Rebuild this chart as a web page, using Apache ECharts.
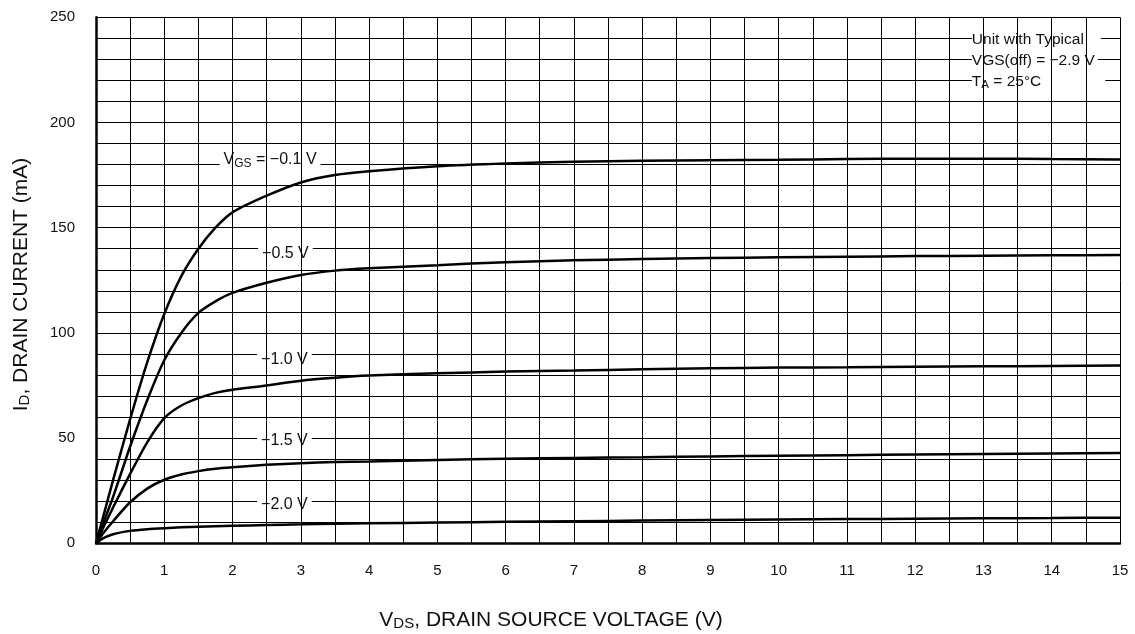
<!DOCTYPE html>
<html>
<head>
<meta charset="utf-8">
<script src="https://cdn.jsdelivr.net/npm/echarts@6/dist/echarts.min.js"></script>
<style>
html,body{margin:0;padding:0;background:#fff;}
#chart{width:1135px;height:634px;}
</style>
</head>
<body>
<div id="chart"></div>
<script>
// Drain voltage samples (V)
const vds = [0, 0.1, 0.25, 0.5, 0.75, 1.0, 1.25, 1.5, 1.75, 2.0, 2.5, 3.0, 3.5, 4, 5, 6, 7, 8, 9, 10, 11, 12, 13, 14, 15];
// Drain current (mA) per gate voltage curve
const idVgs01 = [0, 12, 30, 59, 86, 109, 127, 140, 150, 157.3, 165.2, 171.5, 175, 176.8, 179.2, 180.5, 181.3, 181.8, 182.1, 182.3, 182.6, 182.8, 182.8, 182.6, 182.4];
const idVgs05 = [0, 9, 22, 46, 68, 87, 100, 109.5, 115, 119, 123.8, 127.5, 129.6, 130.7, 132.2, 133.6, 134.5, 135.1, 135.6, 135.9, 136.2, 136.5, 136.7, 136.9, 137];
const idVgs10 = [0, 7, 17, 33, 48, 59.5, 65.5, 69, 71.5, 73, 75, 77.3, 78.7, 79.7, 80.8, 81.6, 82.1, 82.7, 83.2, 83.5, 83.7, 83.9, 84.1, 84.3, 84.5];
const idVgs15 = [0, 4.5, 10.5, 19.5, 26, 30.2, 32.7, 34.3, 35.4, 36.1, 37.3, 38.1, 38.6, 38.9, 39.6, 40.2, 40.6, 40.9, 41.3, 41.6, 41.9, 42.2, 42.5, 42.7, 42.9];
const idVgs20 = [0, 2.3, 4.3, 5.9, 6.7, 7.2, 7.6, 7.9, 8.1, 8.3, 8.7, 9.0, 9.3, 9.5, 9.9, 10.2, 10.5, 10.8, 11.1, 11.3, 11.5, 11.7, 11.9, 12.0, 12.2];
// Curve labels: text, x (V), y (mA)
const curveLabels = [
  ['{n|V}{s|GS}{n| = \u22120.1 V}', 2.55, 182.2],
  ['{n|\u22120.5 V}', 2.775, 137.8],
  ['{n|\u22121.0 V}', 2.76, 87.5],
  ['{n|\u22121.5 V}', 2.76, 48.6],
  ['{n|\u22122.0 V}', 2.76, 18.5]
];
// Condition notes: text, x (V), y (mA), right padding
const noteLabels = [
  ['{m|Unit with Typical}', 12.83, 239.2, 17],
  ['{m|VGS(off) = \u22122.9 V}', 12.83, 229.2, 3],
  ['{m|T}{t|A}{m| = 25\u00B0C}', 12.83, 219.4, 64]
];
const xMin = 0, xMax = 15, xStep = 0.5;
const yMin = 0, yMax = 250, yStep = 10, yLabelStep = 50;

const FONT = '"Liberation Sans", Arial, Helvetica, sans-serif';
const rich = {
  n: { fontSize: 16, fontFamily: FONT, color: '#111' },
  s: { fontSize: 12, fontFamily: FONT, color: '#111', padding: [7, 0, 0, 0] },
  m: { fontSize: 15.5, fontFamily: FONT, color: '#111' },
  t: { fontSize: 11.5, fontFamily: FONT, color: '#111', padding: [7, 0, 0, 0] }
};

const chart = echarts.init(document.getElementById('chart'));
const curves = [idVgs01, idVgs05, idVgs10, idVgs15, idVgs20];

const markData = curveLabels.map(l => ({
  coord: [l[1], l[2]],
  label: { formatter: l[0], position: 'inside', backgroundColor: '#fff', padding: [0, 4, 0, 4], rich: rich }
})).concat(noteLabels.map(l => ({
  coord: [l[1], l[2]],
  label: { formatter: l[0], position: 'right', distance: 0, backgroundColor: '#fff', padding: [0, l[3], 0, 0], rich: rich }
})));

const series = curves.map((arr, k) => ({
  type: 'line',
  data: vds.map((v, i) => [v, arr[i]]),
  showSymbol: false,
  smooth: 0.25,
  lineStyle: { color: '#000', width: 2.5 },
  z: 2,
  silent: true,
  markPoint: k === 0 ? {
    symbol: 'circle', symbolSize: 0, z: 5, silent: true,
    itemStyle: { color: 'transparent' },
    data: markData
  } : undefined
}));

const nameRich = {
  n: { fontSize: 21, fontFamily: FONT, fill: '#111' },
  s: { fontSize: 15, fontFamily: FONT, fill: '#111', padding: [8, 0, 0, 0] }
};

chart.setOption({
  animation: false,
  backgroundColor: '#fff',
  grid: { left: 96, right: 15, top: 17.3, bottom: 90.7, containLabel: false },
  xAxis: {
    type: 'value', min: xMin, max: xMax, interval: xStep, z: 10,
    axisLine: { show: true, onZero: false, lineStyle: { color: '#000', width: 2.5 } },
    axisTick: { show: false },
    splitLine: { show: true, lineStyle: { color: '#000', width: 1 } },
    axisLabel: {
      margin: 20, fontSize: 15, fontFamily: FONT, color: '#111',
      formatter: v => (Math.abs(v - Math.round(v)) < 1e-6 ? String(Math.round(v)) : '')
    }
  },
  yAxis: {
    type: 'value', min: yMin, max: yMax, interval: yStep, z: 0,
    axisLine: { show: true, lineStyle: { color: '#000', width: 2.5 } },
    axisTick: { show: false },
    splitLine: { show: true, lineStyle: { color: '#000', width: 1 } },
    axisLabel: {
      margin: 21, fontSize: 15, fontFamily: FONT, color: '#111', padding: [0, 0, 8, 0],
      formatter: v => (v % yLabelStep === 0 ? String(v) : '')
    }
  },
  graphic: [
    {
      type: 'text', x: 21, y: 284.5, rotation: Math.PI / 2,
      style: { text: '{n|I}{s|D}{n|, DRAIN CURRENT (mA)}', align: 'center', verticalAlign: 'middle', rich: nameRich }
    },
    {
      type: 'text', x: 551, y: 620,
      style: { text: '{n|V}{s|DS}{n|, DRAIN SOURCE VOLTAGE (V)}', align: 'center', verticalAlign: 'middle', rich: nameRich }
    }
  ],
  series: series
});
</script>
</body>
</html>
